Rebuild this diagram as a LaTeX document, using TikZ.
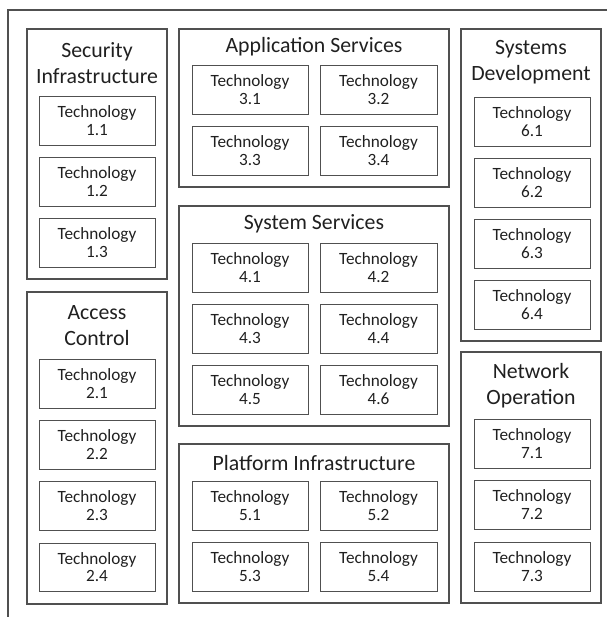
\documentclass[tikz,border=0pt]{standalone}
\usepackage{fontspec}
\setmainfont{Carlito}
\definecolor{linegray}{HTML}{505050}
\definecolor{textgray}{HTML}{202020}
% box from (x1,y1) to (x2,y2), y measured downwards
\newcommand{\techbox}[6]{%
  \node[tech, minimum width={#4-#2}, minimum height={#5-#3}] (#1)
    at ({(#2+#4)/2},{(#3+#5)/2}) {Technology\\#6};}
\newcommand{\groupbox}[5]{%
  \node[group, minimum width={#4-#2}, minimum height={#5-#3}] (#1)
    at ({(#2+#4)/2},{(#3+#5)/2}) {};}
\begin{document}
\begin{tikzpicture}[x=1pt,y=-1pt,
  group/.style={draw=linegray, line width=1.1pt, inner sep=0pt},
  tech/.style={draw=linegray, line width=0.9pt, inner sep=0pt, align=center,
    font=\fontsize{17.2}{17.8}\selectfont, text=textgray},
  title/.style={align=center, inner sep=0pt,
    font=\fontsize{21.8}{26}\selectfont, text=textgray}]
\useasboundingbox (0,0) rectangle (607,617);

% outer frame (only its top and left sides fall inside the page)
\coordinate (fbl) at (8,617);
\coordinate (ftl) at (8,10);
\coordinate (ftr) at (607,10);
\draw[draw=linegray, line width=1.1pt] (fbl) -- (ftl) -- (ftr);

% ---- left column ----
\groupbox{sec}{27}{29}{167}{279}
\node[title] (sect) at (97,63) {Security\\Infrastructure};
\techbox{t11}{39}{96}{155}{145}{1.1}
\techbox{t12}{39}{157}{155}{206}{1.2}
\techbox{t13}{39}{218}{155}{267}{1.3}

\groupbox{acc}{27}{292}{167}{604}
\node[title] (acct) at (97,326) {Access\\Control};
\techbox{t21}{39}{359}{155}{408}{2.1}
\techbox{t22}{39}{420}{155}{469}{2.2}
\techbox{t23}{39}{481}{155}{530}{2.3}
\techbox{t24}{39}{543}{155}{591}{2.4}

% ---- middle column ----
\groupbox{app}{179}{29}{449}{187}
\node[title] (appt) at (314,47) {Application Services};
\techbox{t31}{192}{65}{308}{114}{3.1}
\techbox{t32}{320}{65}{437}{114}{3.2}
\techbox{t33}{192}{126}{308}{175}{3.3}
\techbox{t34}{320}{126}{437}{175}{3.4}

\groupbox{sys}{179}{206}{449}{426}
\node[title] (syst) at (314,224) {System Services};
\techbox{t41}{192}{243}{308}{292}{4.1}
\techbox{t42}{320}{243}{437}{292}{4.2}
\techbox{t43}{192}{304}{308}{353}{4.3}
\techbox{t44}{320}{304}{437}{353}{4.4}
\techbox{t45}{192}{365}{308}{414}{4.5}
\techbox{t46}{320}{365}{437}{414}{4.6}

\groupbox{plat}{179}{444}{449}{603}
\node[title] (platt) at (314,463) {Platform Infrastructure};
\techbox{t51}{192}{481}{308}{530}{5.1}
\techbox{t52}{320}{481}{437}{530}{5.2}
\techbox{t53}{192}{542}{308}{591}{5.3}
\techbox{t54}{320}{542}{437}{591}{5.4}

% ---- right column ----
\groupbox{dev}{461}{29}{601}{341}
\node[title] (devt) at (531,62) {Systems\\Development};
\techbox{t61}{474}{97}{590}{146}{6.1}
\techbox{t62}{474}{158}{590}{207}{6.2}
\techbox{t63}{474}{219}{590}{268}{6.3}
\techbox{t64}{474}{280}{590}{329}{6.4}

\groupbox{net}{461}{352}{601}{603}
\node[title] (nett) at (531,386) {Network\\Operation};
\techbox{t71}{474}{419}{590}{468}{7.1}
\techbox{t72}{474}{480}{590}{529}{7.2}
\techbox{t73}{474}{542}{590}{591}{7.3}
\end{tikzpicture}
\end{document}
